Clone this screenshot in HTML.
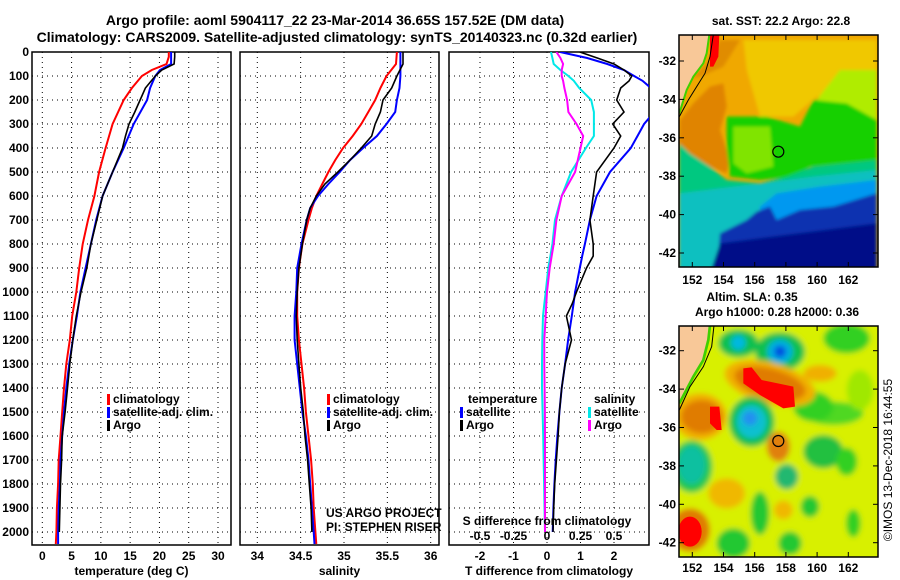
<!DOCTYPE html>
<html><head><meta charset="utf-8">
<style>
html,body{margin:0;padding:0;background:#fff;}
svg{display:block;font-family:"Liberation Sans",sans-serif;}
.b{font-weight:bold;font-size:12px;}
.t{font-weight:bold;font-size:14px;}
</style></head>
<body>
<svg id="fig" width="900" height="580" viewBox="0 0 900 580" xmlns="http://www.w3.org/2000/svg">
<defs>
<filter id="blr" x="-10%" y="-10%" width="120%" height="120%"><feGaussianBlur stdDeviation="5"/></filter>
<filter id="blr2" x="-10%" y="-10%" width="120%" height="120%"><feGaussianBlur stdDeviation="8"/></filter>
<clipPath id="cp1"><rect x="32" y="52" width="199" height="493"/></clipPath>
<clipPath id="cp2"><rect x="240" y="52" width="199" height="493"/></clipPath>
<clipPath id="cp3"><rect x="449" y="52" width="200" height="493"/></clipPath>
<clipPath id="cmap1"><rect x="679" y="35" width="199" height="232"/></clipPath>
<clipPath id="cmap2"><rect x="679" y="326" width="199" height="231"/></clipPath>
</defs>
<text class="t" x="335" y="25" text-anchor="middle">Argo profile: aoml 5904117_22 23-Mar-2014 36.65S 157.52E (DM data)</text>
<text class="t" x="337" y="42" text-anchor="middle">Climatology: CARS2009. Satellite-adjusted climatology: synTS_20140323.nc (0.32d earlier)</text>

<!-- Maps -->
<g clip-path="url(#cmap1)">
 <rect x="679" y="35" width="199" height="232" fill="#f0a800"/>
 <g transform="translate(660,20) scale(0.33333)" filter="url(#blr)">
  <polygon points="250,60 650,60 650,200 560,230 470,230 400,290 300,290 260,150" fill="#f0c800"/>
  <polygon points="58,180 120,170 190,140 215,100 240,60 180,60 150,120 100,170 58,230" fill="#e08c00"/>
  <polygon points="60,300 100,250 150,200 190,190 200,260 180,330 210,420 200,460 150,440 100,420 58,380" fill="#e08400"/>
  <polygon points="540,150 650,150 650,360 480,300 470,240" fill="#b0ec00"/>
  <polygon points="200,290 320,290 420,320 460,240 560,250 650,300 650,420 450,440 400,470 300,480 210,470 200,390" fill="#18d000"/>
  <polygon points="220,320 330,320 340,440 260,460 220,430" fill="#80e400"/>
  <polygon points="58,370 90,400 150,440 200,480 300,490 380,470 460,440 650,420 650,760 58,760" fill="#00c880"/>
  <polygon points="58,520 300,490 460,470 650,450 650,760 58,760" fill="#10c0c0"/>
  <polygon points="300,560 350,520 480,500 650,480 650,760 300,760" fill="#0098f0"/>
  <polygon points="170,760 180,640 260,600 290,575 330,560 350,600 420,570 520,560 650,520 650,760" fill="#0830b0"/>
  <polygon points="150,760 180,670 650,610 650,760" fill="#000c88"/>
 </g>
 <g transform="translate(660,20) scale(0.33333)">
  <polygon points="150,44 178,44 175,110 160,140 150,140" fill="#ff0000"/>
  <polygon points="58,44 148,44 140,100 130,130 100,170 80,210 58,280" fill="#f8c898"/>
  <polyline points="148,44 140,100 130,130 100,170 80,210 58,280" fill="none" stroke="#40d000" stroke-width="6"/>
  <polyline points="160,44 150,110 135,160 110,200 85,240 58,290" fill="none" stroke="#000" stroke-width="3"/>
 </g>
 <circle cx="778.3" cy="151.7" r="5.5" fill="none" stroke="#000" stroke-width="1.2"/>
</g>
<rect x="679" y="35" width="199" height="232" fill="none" stroke="#000" stroke-width="1.5"/>

<g clip-path="url(#cmap2)">
 <rect x="679" y="326" width="199" height="231" fill="#d8f000"/>
 <g transform="translate(660,280) scale(0.33333)" filter="url(#blr2)">
  <rect x="40" y="120" width="640" height="760" fill="#d8f000"/>
  <ellipse cx="560" cy="175" rx="70" ry="45" fill="#30d020"/>
  <ellipse cx="520" cy="400" rx="90" ry="35" fill="#50d820"/>
  <ellipse cx="460" cy="380" rx="60" ry="45" fill="#30d020"/>
  <ellipse cx="600" cy="330" rx="40" ry="60" fill="#a0e800"/>
  <ellipse cx="480" cy="280" rx="50" ry="25" fill="#f0b000"/>
  <ellipse cx="235" cy="190" rx="60" ry="42" fill="#10c050"/>
  <ellipse cx="235" cy="188" rx="22" ry="22" fill="#00b8e0"/>
  <ellipse cx="360" cy="215" rx="75" ry="58" fill="#10c050"/>
  <ellipse cx="360" cy="215" rx="38" ry="36" fill="#00b0e0"/>
  <ellipse cx="360" cy="215" rx="18" ry="18" fill="#0050e0"/>
  <ellipse cx="330" cy="310" rx="140" ry="62" fill="#f0b000" transform="rotate(15 330 310)"/>
  <ellipse cx="330" cy="310" rx="110" ry="44" fill="#e07c00" transform="rotate(15 330 310)"/>
  <ellipse cx="120" cy="410" rx="80" ry="70" fill="#f0b000"/>
  <ellipse cx="125" cy="410" rx="62" ry="50" fill="#e07c00"/>
  <ellipse cx="275" cy="425" rx="68" ry="75" fill="#10c050"/>
  <ellipse cx="275" cy="425" rx="45" ry="50" fill="#10c0d0"/>
  <ellipse cx="270" cy="415" rx="22" ry="22" fill="#2090f0"/>
  <ellipse cx="95" cy="560" rx="62" ry="78" fill="#20c850"/>
  <ellipse cx="95" cy="555" rx="42" ry="58" fill="#10c0a0"/>
  <ellipse cx="355" cy="500" rx="35" ry="45" fill="#e08010"/>
  <ellipse cx="490" cy="515" rx="60" ry="50" fill="#20c040"/>
  <ellipse cx="380" cy="590" rx="35" ry="38" fill="#20b870"/>
  <ellipse cx="560" cy="545" rx="32" ry="42" fill="#30d020"/>
  <ellipse cx="200" cy="640" rx="55" ry="45" fill="#f0b800"/>
  <ellipse cx="370" cy="690" rx="28" ry="28" fill="#f0b800"/>
  <ellipse cx="90" cy="750" rx="60" ry="65" fill="#e07c00"/>
  <ellipse cx="300" cy="700" rx="28" ry="65" fill="#20c830"/>
  <ellipse cx="390" cy="790" rx="35" ry="35" fill="#20c830"/>
  <ellipse cx="450" cy="680" rx="28" ry="32" fill="#20c830"/>
  <ellipse cx="220" cy="790" rx="50" ry="45" fill="#20c830"/>
  <ellipse cx="580" cy="730" rx="22" ry="42" fill="#30d020"/>
 </g>
 <g transform="translate(660,280) scale(0.33333)">
  <polygon points="250,265 275,262 305,300 400,320 405,380 370,385 300,345 250,310" fill="#ff0000"/>
  <polygon points="150,380 178,380 185,450 170,450 150,430" fill="#ff0000"/>
  <ellipse cx="90" cy="755" rx="35" ry="45" fill="#ff0000"/>
  <polygon points="58,136 150,136 145,180 130,240 100,290 58,370" fill="#f8c898"/>
  <polyline points="150,136 145,180 130,240 100,290 58,370" fill="none" stroke="#40d000" stroke-width="8"/>
  <polyline points="162,136 155,200 130,260 90,320 58,390" fill="none" stroke="#000" stroke-width="3"/>
 </g>
 <circle cx="778.3" cy="441" r="5.5" fill="none" stroke="#000" stroke-width="1.2"/>
</g>
<rect x="679" y="326" width="199" height="231" fill="none" stroke="#000" stroke-width="1.5"/>

<text class="b" x="781" y="25" text-anchor="middle">sat. SST: 22.2 Argo: 22.8</text>
<text class="b" x="752" y="301" text-anchor="middle">Altim. SLA: 0.35</text>
<text class="b" x="777" y="316" text-anchor="middle">Argo h1000: 0.28 h2000: 0.36</text>
<text x="892" y="460" font-size="12" text-anchor="middle" transform="rotate(-90 892 460)">©IMOS 13-Dec-2018 16:44:55</text>

<g id="plots"></g>
</svg>
<script>
// ---------- data ----------
const tDepth = [0,20,50,75,100,150,200,300,400,500,600,700,800,900,1000,1100,1200,1300,1400,1500,1600,1700,1800,1900,2000,2050];
const tClim  = [21.6,21.6,21.2,18.7,17.0,15.3,13.9,12.0,10.8,9.7,8.9,7.8,6.9,6.3,5.8,5.1,4.7,4.1,3.7,3.4,3.1,2.8,2.7,2.5,2.4,2.3];
const tSat   = [22.0,22.0,22.0,20.1,19.3,18.4,17.9,15.6,13.9,12.0,10.3,9.2,8.3,7.4,6.5,5.9,5.2,4.6,4.1,3.7,3.4,3.1,3.0,2.8,2.7,2.7];
const argoDepth = [0,20,50,75,100,150,200,250,300,350,400,500,600,700,800,900,1000,1100,1200,1300,1400,1500,1600,1700,1800,1900,2000];
const tArgo  = [22.6,22.6,22.5,20.4,19.3,17.6,16.7,15.8,14.8,14.2,13.7,12.0,10.3,9.3,8.3,7.6,6.6,5.8,5.2,4.7,4.3,3.9,3.4,3.3,3.1,3.0,2.9];
const sDepth = [0,50,100,150,200,250,300,350,400,450,500,550,600,650,700,800,900,1000,1100,1200,1300,1400,1500,1600,1700,1800,1900,2000,2050];
const sClim  = [35.61,35.60,35.49,35.42,35.36,35.28,35.20,35.10,34.99,34.90,34.82,34.75,34.68,34.63,34.59,34.52,34.48,34.46,34.46,34.48,34.51,34.54,34.56,34.59,34.62,34.64,34.65,34.67,34.68];
const sSat   = [35.65,35.65,35.65,35.64,35.61,35.59,35.49,35.38,35.22,35.07,34.95,34.82,34.70,34.61,34.57,34.51,34.46,34.45,34.43,34.43,34.46,34.49,34.52,34.56,34.59,34.61,34.63,34.65,34.66];
const sArgoDepth = [0,50,100,150,200,250,300,350,400,450,500,550,600,650,700,800,900,1000,1100,1200,1300,1400,1500,1600,1700,1800,1900,2000];
const sArgo  = [35.68,35.68,35.61,35.55,35.45,35.42,35.36,35.32,35.20,35.07,34.93,34.78,34.68,34.61,34.57,34.52,34.48,34.46,34.45,34.46,34.48,34.50,34.53,34.55,34.58,34.60,34.62,34.63];
const dDepth = [0,25,50,75,100,120,150,200,250,300,350,400,500,600,700,800,850,900,1000,1050,1100,1200,1300,1400,1500,1600,1700,1800,1900,2000];
const dtSat  = [0.39,1.2,1.8,2.3,2.6,2.85,3.1,3.3,3.2,2.9,2.7,2.5,1.88,1.48,1.28,1.13,1.05,0.98,0.84,0.79,0.74,0.63,0.54,0.44,0.37,0.31,0.26,0.22,0.19,0.17];
const dtArgo = [0.98,1.5,2.0,2.3,2.53,2.45,2.2,2.08,2.3,1.96,2.2,2.0,1.48,1.38,1.28,1.38,1.38,1.18,0.88,0.75,0.58,0.73,0.54,0.44,0.37,0.33,0.28,0.23,0.2,0.18];
const dsSat  = [0.03,0.04,0.05,0.1,0.16,0.2,0.24,0.33,0.35,0.35,0.35,0.29,0.18,0.11,0.06,0.04,0.025,0.01,-0.01,-0.02,-0.03,-0.035,-0.037,-0.037,-0.033,-0.028,-0.025,-0.022,-0.019,-0.015];
const dsArgo = [0.07,0.1,0.12,0.11,0.11,0.12,0.13,0.15,0.16,0.22,0.27,0.25,0.21,0.11,0.07,0.05,0.035,0.02,0.0,-0.005,-0.01,-0.02,-0.02,-0.018,-0.016,-0.015,-0.015,-0.015,-0.015,-0.015];
const depthTicks = [0,100,200,300,400,500,600,700,800,900,1000,1100,1200,1300,1400,1500,1600,1700,1800,1900,2000];
const tTicks = [0,5,10,15,20,25,30];
const sTicks = [34,34.5,35,35.5,36];
const dtTicks = [-2,-1,0,1,2];
const dsTicks = [-0.5,-0.25,0,0.25,0.5];
const dsTickLabels = ["-0.5","-0.25","0","0.25","0.5"];
// ---------- axes ----------
const Y0=52, Y1=545;
const yD = d => 52 + d*0.24;
const xT = v => 42.3 + v*(218-42.3)/30;
const xS = v => 257.3 + (v-34)*86.7;
const xDT = v => 547 + v*33.5;
const xDS = v => 547 + v*134;
const NS='http://www.w3.org/2000/svg';
const root=document.getElementById('plots');
function mk(tag,attrs,parent){const e=document.createElementNS(NS,tag);for(const k in attrs)e.setAttribute(k,attrs[k]);(parent||root).appendChild(e);return e;}
function txt(x,y,s,cls,anchor,parent){const e=mk('text',{x:x,y:y,class:cls||'b','text-anchor':anchor||'middle'},parent);e.textContent=s;return e;}

function panel(name,L,R,xf,xticks,xlabels,xtitle,clip){
  const g=mk('g',{});
  
  
  depthTicks.forEach(d=>{const l=mk('line',{x1:L,x2:R,y1:yD(d),y2:yD(d),stroke:'#000','stroke-dasharray':'1,4','stroke-width':1},g);
    
    });
  xticks.forEach((v,i)=>{const x=xf(v);
    const l=mk('line',{x1:x,x2:x,y1:Y0,y2:Y1,stroke:'#000','stroke-dasharray':'1,4','stroke-width':1},g);
    
    
    const t=txt(x,560,xlabels[i],'b','middle',g);
    
    });
  const fr=mk('rect',{x:L,y:Y0,width:R-L,height:Y1-Y0,fill:'none',stroke:'#000','stroke-width':1.5},g);
  
  
  const xt=txt((L+R)/2,575,xtitle,'b','middle',g);
  
  
  const cg=mk('g',{'clip-path':'url(#'+clip+')'},g);
  return cg;
}
function line(g,depths,vals,xf,color,name,w){
  const pts=depths.map((d,i)=>xf(vals[i]).toFixed(1)+','+yD(d).toFixed(1)).join(' ');
  const p=mk('polyline',{points:pts,fill:'none',stroke:color,'stroke-width':w||2},g);
  
  
}
function legend(x,y,color,label,parent){
  const m=mk('rect',{x:x,y:y-9,width:3,height:11,fill:color},parent);
  
  
  const t=txt(x+6,y,label,'b','start',parent);
  
  
}
depthTicks.forEach(d=>{const t=txt(29,yD(d)+4,String(d),'b','end');
  
  });

const g1=panel('temperature-panel',32,231,xT,tTicks,tTicks.map(String),'temperature (deg C)','cp1');
line(g1,tDepth,tClim,xT,'#ff0000','temp-climatology-line');
line(g1,tDepth,tSat,xT,'#0000ff','temp-satellite-line');
line(g1,argoDepth,tArgo,xT,'#000000','temp-argo-line',1.6);
legend(107,403,'#ff0000','climatology');
legend(107,416,'#0000ff','satellite-adj. clim.');
legend(107,429,'#000000','Argo');

const g2=panel('salinity-panel',240,439,xS,sTicks,['34','34.5','35','35.5','36'],'salinity','cp2');
line(g2,sDepth,sClim,xS,'#ff0000','sal-climatology-line');
line(g2,sDepth,sSat,xS,'#0000ff','sal-satellite-line');
line(g2,sArgoDepth,sArgo,xS,'#000000','sal-argo-line',1.6);
legend(327,403,'#ff0000','climatology');
legend(327,416,'#0000ff','satellite-adj. clim.');
legend(327,429,'#000000','Argo');
const c1=txt(326,517,'US ARGO PROJECT','','start');c1.setAttribute('font-size','12');


const c2=txt(326,531,'PI: STEPHEN RISER','','start');c2.setAttribute('font-size','12');



const g3=panel('difference-panel',449,649,xDT,dtTicks,dtTicks.map(String),'T difference from climatology','cp3');
line(g3,dDepth,dtSat,xDT,'#0000ff','tdiff-satellite-line');
line(g3,dDepth,dtArgo,xDT,'#000000','tdiff-argo-line',1.6);
line(g3,dDepth,dsSat,xDS,'#00e8e8','sdiff-satellite-line');
line(g3,dDepth,dsArgo,xDS,'#ff00ff','sdiff-argo-line');
const tl=txt(468,403,'temperature','b','start');


legend(460,416,'#0000ff','satellite');
legend(460,429,'#000000','Argo');
const sl=txt(594,403,'salinity','b','start');


legend(588,416,'#00e8e8','satellite');
legend(588,429,'#ff00ff','Argo');
const st=txt(547,525,'S difference from climatology','b','middle');


dsTicks.forEach((v,i)=>{const t=txt(xDS(v),540,dsTickLabels[i],'b','middle');
  
  });

// map axes
const latTicks=[-32,-34,-36,-38,-40,-42];
const lonTicks=[152,154,156,158,160,162];
const mx = lon => 692.3 + (lon-152)*15.6;
[[61,280],[350.7,568]].forEach(([lat32y,laby],mi)=>{
  const top = mi===0?35:326, bot = mi===0?267:557;
  latTicks.forEach(v=>{const y=lat32y+(-32-v)*19.2;
    const t=txt(676,y+4,String(v),'b','end');
    
    
    mk('line',{x1:679,x2:684,y1:y,y2:y,stroke:'#000'});
    mk('line',{x1:873,x2:878,y1:y,y2:y,stroke:'#000'});});
  lonTicks.forEach(v=>{const x=mx(v);
    const t=txt(x,laby+4,String(v),'b','middle');
    
    
    mk('line',{x1:x,x2:x,y1:top,y2:top+5,stroke:'#000'});
    mk('line',{x1:x,x2:x,y1:bot-5,y2:bot,stroke:'#000'});});
});
</script>
</body></html>
